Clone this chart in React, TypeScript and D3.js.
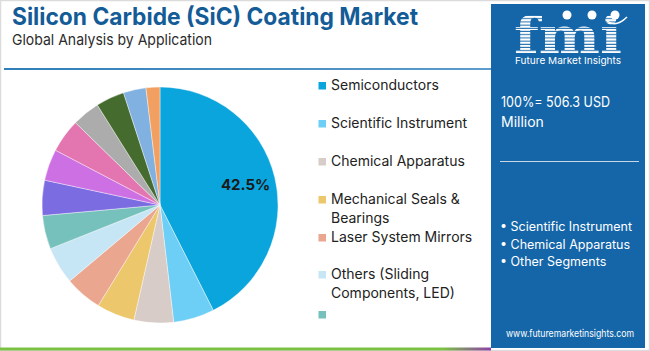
import React from "react";
import * as d3 from "d3";

const sliceValues = [42.5, 5.6, 5.4, 5.2, 5.1, 5.1, 4.6, 4.8, 4.3, 4.6, 3.8, 3.9, 3.1, 1.9];
const sliceColors = [
  "#0aa5dc", "#6dcff5", "#d7ccc8", "#ecc76c", "#eba690", "#c7e6f5", "#77c1bc",
  "#7c6ce2", "#cd70e3", "#e376b1", "#acacac", "#466b2e", "#80b1e0", "#f1a061",
];
const legendLabels = [
  ["Semiconductors"],
  ["Scientific Instrument"],
  ["Chemical Apparatus"],
  ["Mechanical Seals &", "Bearings"],
  ["Laser System Mirrors"],
  ["Others (Sliding", "Components, LED)"],
  [""],
];
const legendY = [85, 123, 161, 199, 237, 274, 314];
const bulletLabels = ["Scientific Instrument", "Chemical Apparatus", "Other Segments"];
const FONT = "Inter, 'Open Sans', sans-serif";

export default function App() {
  const cx = 160, cy = 205, r = 118;
  const pie = d3.pie<number>().sort(null).value((d) => d);
  const arcs = pie(sliceValues);
  const arc = d3.arc<d3.PieArcDatum<number>>().innerRadius(0).outerRadius(r);
  const labelArc = d3.arc<d3.PieArcDatum<number>>().innerRadius(r * 0.72).outerRadius(r * 0.72);
  const [lx, ly] = labelArc.centroid(arcs[0]);

  return (
    <svg width={650} height={351} style={{ position: "absolute", left: 0, top: 0, fontFamily: FONT }}>
      <defs>
        <linearGradient id="bottomGrad" x1="0" x2="1" y1="0" y2="0">
          <stop offset="0" stopColor="#7cc242" />
          <stop offset="0.9" stopColor="#7cc242" />
          <stop offset="1" stopColor="#8e3fa8" />
        </linearGradient>
        <linearGradient id="topLine" x1="0" x2="1" y1="0" y2="0">
          <stop offset="0" stopColor="#2f7fb8" />
          <stop offset="1" stopColor="#5d9ccc" />
        </linearGradient>
        <pattern id="stripes" width="4" height="3.2" patternUnits="userSpaceOnUse">
          <rect width="4" height="2.2" fill="#ffffff" />
        </pattern>
      </defs>
      <rect x={0} y={0} width={650} height={351} fill="#ffffff" />
      <rect x={0.5} y={0.5} width={649} height={350} fill="none" stroke="#dcdcdc" strokeWidth={1.5} />

      <text x={12} y={25} fontSize={24} fontWeight={700} fill="#145c97" textLength={406} lengthAdjust="spacingAndGlyphs">
        Silicon Carbide (SiC) Coating Market
      </text>
      <text x={12} y={44.5} fontSize={15} fill="#2b2b2b" textLength={200} lengthAdjust="spacingAndGlyphs">
        Global Analysis by Application
      </text>
      <rect x={4} y={68} width={487} height={2} fill="url(#topLine)" />
      <rect x={0} y={347.5} width={491} height={3} fill="url(#bottomGrad)" />

      <g transform={`translate(${cx},${cy})`}>
        {arcs.map((a, i) => (
          <path key={i} d={arc(a) || ""} fill={sliceColors[i]} stroke="#ffffff" strokeWidth={0.4} />
        ))}
        <text x={lx + 3} y={ly + 1} fontSize={15} fontWeight={700} fill="#1a1a1a" textAnchor="middle" dominantBaseline="middle">
          42.5%
        </text>
      </g>

      {legendLabels.map((lines, i) => (
        <g key={i}>
          <rect x={318.5} y={legendY[i] - 3} width={7.5} height={7.5} fill={sliceColors[i]} />
          {lines.map((t, j) => (
            <text key={j} x={331} y={legendY[i] + 5 + j * 19} fontSize={14} fill="#222222">
              {t}
            </text>
          ))}
        </g>
      ))}

      <rect x={491} y={4} width={154} height={344} fill="#1566a8" />
      <g>
        <text x={568} y={53} fontSize={50} fontWeight={700} fontFamily="'DejaVu Serif', serif" fill="url(#stripes)" textAnchor="middle" textLength={108} lengthAdjust="spacingAndGlyphs">
          fmi
        </text>
        <circle cx={567} cy={15} r={4.5} fill="#ffffff" />
        <circle cx={592} cy={15} r={4.5} fill="#ffffff" />
        <circle cx={615} cy={15} r={4.5} fill="#ffffff" />
        <path d="M607,21 Q616,28 627,17" stroke="#ffffff" strokeWidth={1.5} fill="none" />
        <text x={568} y={64} fontSize={9.5} fill="#ffffff" textAnchor="middle" textLength={106} lengthAdjust="spacingAndGlyphs">
          Future Market Insights
        </text>
      </g>
      <text x={501} y={107} fontSize={14} fill="#ffffff" textLength={109} lengthAdjust="spacingAndGlyphs">100%= 506.3 USD</text>
      <text x={501} y={127} fontSize={14} fill="#ffffff">Million</text>
      <line x1={500} x2={639} y1={161.5} y2={161.5} stroke="#c9d6e3" strokeWidth={1} />
      {bulletLabels.map((t, i) => (
        <text key={i} x={500} y={231 + i * 17.5} fontSize={12.5} fill="#ffffff">
          {"• " + t}
        </text>
      ))}
      <text x={570} y={337} fontSize={10.5} fill="#ffffff" textAnchor="middle" textLength={128} lengthAdjust="spacingAndGlyphs">
        www.futuremarketinsights.com
      </text>
    </svg>
  );
}
